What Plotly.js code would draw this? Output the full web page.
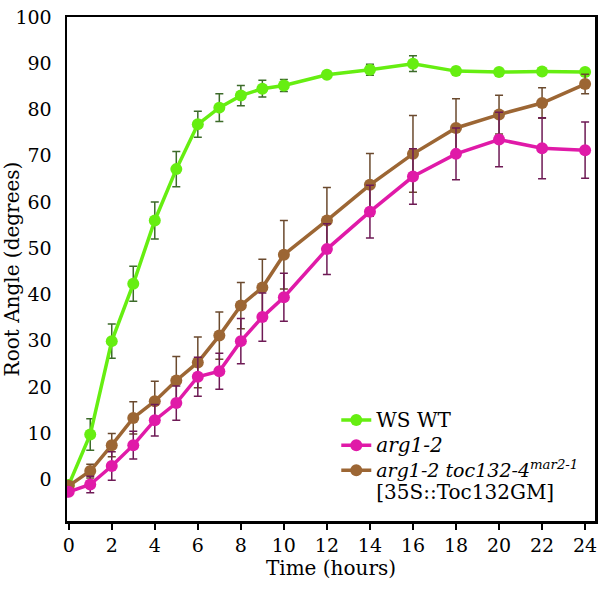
<!DOCTYPE html>
<html>
<head>
<meta charset="utf-8">
<script src="https://cdn.plot.ly/plotly-3.0.1.min.js"></script>
<style>html,body{margin:0;padding:0;background:#fff;}#chart{width:600px;height:589px;}</style>
</head>
<body>
<div id="chart"></div>
<script>
const hours = [0,1,2,3,4,5,6,7,8,9,10,12,14,16,18,20,22,24];
const wtMean = [-1.2,9.7,29.9,42.3,56.0,67.1,76.8,80.4,83.0,84.5,85.2,87.5,88.6,89.9,88.3,88.1,88.2,88.1];
const wtErr  = [0.5,3.4,3.7,3.8,4.0,3.8,2.8,3.0,2.2,1.8,1.3,0.5,1.2,1.7,0.8,0.5,0.5,0.5];
const argMean = [-2.7,-1.1,2.9,7.4,12.8,16.5,22.2,23.4,29.9,35.1,39.4,49.8,57.9,65.5,70.4,73.5,71.6,71.2];
const argErr  = [0.5,1.8,3.1,3.0,3.4,3.7,4.2,3.9,4.9,5.2,5.2,5.5,5.7,6.0,5.6,5.9,6.6,6.1];
const tocMean = [-1.4,1.8,7.4,13.3,16.9,21.4,25.3,31.1,37.6,41.5,48.6,56.0,63.7,70.4,76.0,78.9,81.4,85.5];
const tocErr  = [0.5,1.5,2.5,3.5,4.3,5.2,5.5,5.1,5.0,6.1,7.4,7.1,6.8,8.3,6.3,4.2,3.3,2.1];
const names = [
  '<span style="font-size:20px">WS WT</span>',
  '<span style="font-size:20px"><i>arg1-2</i></span>',
  '<span style="font-size:19px"><i>arg1-2 toc132-4<sup>mar2-1</sup></i></span><br><span style="font-size:20px">[35S::Toc132GM]</span>'
];
const xTicks = [0,2,4,6,8,10,12,14,16,18,20,22,24];
const yTicks = [0,10,20,30,40,50,60,70,80,90,100];

function series(y, err, name, color, errColor, rank) {
  return {
    x: hours, y: y, name: name, type: 'scatter', mode: 'lines+markers',
    legendrank: rank,
    line: {color: color, width: 3.5},
    marker: {color: color, size: 12},
    error_y: {type: 'data', array: err, visible: true, color: errColor, thickness: 1.5, width: 4}
  };
}
const data = [
  series(wtMean, wtErr, names[0], '#66ee11', '#3d6b2a', 1),
  series(tocMean, tocErr, names[2], '#9c6634', '#6b4a2e', 3),
  series(argMean, argErr, names[1], '#e01aa8', '#6e1a55', 2)
];
const FAM = 'DejaVu Serif';
const layout = {
  width: 600, height: 589,
  margin: {l: 67, r: 5, t: 17, b: 68, autoexpand: false},
  paper_bgcolor: '#fff', plot_bgcolor: '#fff',
  showlegend: true,
  font: {family: FAM, size: 19, color: '#000'},
  xaxis: {
    range: [-0.08, 24.46], tickvals: xTicks, ticktext: xTicks.map(String),
    showgrid: false, zeroline: false, showline: true, mirror: true,
    linecolor: '#000', linewidth: 2.5, ticks: 'outside', ticklen: 6, tickwidth: 2, tickcolor: '#000',
    tickfont: {family: FAM, size: 19, color: '#000'},
    title: {text: 'Time (hours)', font: {family: FAM, size: 20, color: '#000'}, standoff: 6}
  },
  yaxis: {
    range: [-9, 100], tickvals: yTicks, ticktext: yTicks.map(String),
    showgrid: false, zeroline: false, showline: true, mirror: true,
    linecolor: '#000', linewidth: 2.5, ticks: '', ticklabelstandoff: 9,
    tickfont: {family: FAM, size: 19, color: '#000'},
    title: {text: 'Root Angle (degrees)', font: {family: FAM, size: 20, color: '#000'}, standoff: 8}
  },
  legend: {
    x: 0.51, y: 0.235, xanchor: 'left', yanchor: 'top',
    bgcolor: 'rgba(0,0,0,0)', borderwidth: 0, valign: 'top',
    font: {family: FAM, size: 17, color: '#000'}, itemwidth: 30, tracegroupgap: 0
  }
};
Plotly.newPlot('chart', data, layout, {displayModeBar: false, staticPlot: true});
</script>
</body>
</html>
